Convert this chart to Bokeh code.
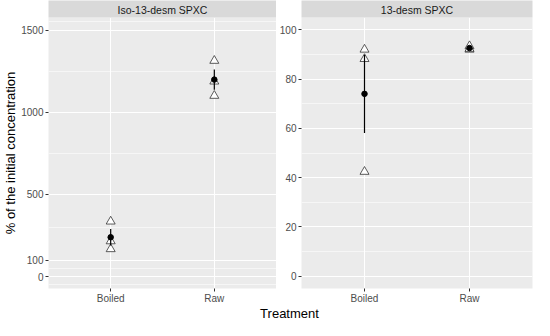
from bokeh.plotting import figure
from bokeh.models import (FactorRange, Range1d, FixedTicker, CategoricalAxis, Label,
                          ColumnDataSource)
from bokeh.layouts import column, row
from bokeh.embed import file_html
from bokeh.resources import INLINE

# ---------------- data ----------------
treatments = ["Boiled", "Raw"]
obs_treatment = ["Boiled", "Boiled", "Boiled", "Raw", "Raw", "Raw"]

# Iso-13-desm SPXC panel
iso_title = "Iso-13-desm SPXC"
iso_obs = [336, 216, 168, 1314, 1188, 1101]
iso_mean = [240, 1199]
iso_lower = [190, 1138]
iso_upper = [290, 1260]
iso_ticks = [0, 100, 500, 1000, 1500]
iso_minor = [-50, 50, 300, 750, 1250, 1550]
iso_limits = (-72, 1577)

# 13-desm SPXC panel
d13_title = "13-desm SPXC"
d13_obs = [92.0, 88.2, 42.4, 92.0, 92.3, 93.4]
d13_mean = [74.0, 92.6]
d13_lower = [58.1, 92.2]
d13_upper = [89.9, 93.0]
d13_ticks = [0, 20, 40, 60, 80, 100]
d13_minor = [10, 30, 50, 70, 90]
d13_limits = (-5, 105)

y_title = "% of the initial concentration"
x_title = "Treatment"

FONT = "Liberation Sans"
PANEL_BG = "#EBEBEB"
STRIP_BG = "#D9D9D9"
ROW_H = 306


def make_panel(title, obs, mean, lower, upper, ticks, minor, limits, width, ylabel=None):
    p = figure(width=width, height=ROW_H, output_backend="svg", toolbar_location=None,
               x_range=FactorRange(factors=treatments, range_padding=0.1),
               y_range=Range1d(*limits),
               background_fill_color=PANEL_BG, border_fill_color="white",
               outline_line_color=None,
               min_border_left=0, min_border_right=0, min_border_top=3, min_border_bottom=0)

    # grid
    p.xgrid.grid_line_color = "white"
    p.xgrid.grid_line_width = 1.1
    p.ygrid.grid_line_color = "white"
    p.ygrid.grid_line_width = 1.1
    p.ygrid.minor_grid_line_color = "white"
    p.ygrid.minor_grid_line_width = 0.55
    p.yaxis.ticker = FixedTicker(ticks=ticks, minor_ticks=minor)

    for ax in (p.xaxis[0], p.yaxis[0]):
        ax.axis_line_color = None
        ax.major_tick_line_color = "#333333"
        ax.major_tick_line_width = 1
        ax.major_tick_out = 3
        ax.major_tick_in = 0
        ax.minor_tick_line_color = None
        ax.major_label_text_color = "#4D4D4D"
        ax.major_label_text_font = FONT
        ax.major_label_text_font_size = "10px"
        ax.major_label_standoff = 1
    p.xaxis.major_label_standoff = 1

    if ylabel:
        p.yaxis.axis_label = ylabel
        p.yaxis.axis_label_text_font = FONT
        p.yaxis.axis_label_text_font_size = "13px"
        p.yaxis.axis_label_text_font_style = "normal"
        p.yaxis.axis_label_text_color = "black"
        p.yaxis.axis_label_standoff = 0

    # facet strip as an axis without ticks above the panel
    strip = CategoricalAxis(ticker=FixedTicker(ticks=[]),
                            axis_label=title, axis_line_color=None,
                            major_tick_line_color=None, minor_tick_line_color=None,
                            major_tick_out=0, major_tick_in=0, major_label_standoff=0,
                            axis_label_text_font=FONT, axis_label_text_font_size="10.5px",
                            axis_label_text_font_style="normal",
                            axis_label_text_color="#1A1A1A", axis_label_standoff=2,
                            background_fill_color=STRIP_BG)
    p.add_layout(strip, "above")

    obs_src = ColumnDataSource(dict(t=obs_treatment, v=obs))
    sum_src = ColumnDataSource(dict(t=treatments, m=mean, lo=lower, hi=upper))

    p.scatter(x="t", y="v", source=obs_src, marker="triangle", size=9,
              fill_color="white", line_color="#333333", line_width=0.8)
    p.segment(x0="t", y0="lo", x1="t", y1="hi", source=sum_src,
              line_color="black", line_width=1.2)
    p.scatter(x="t", y="m", source=sum_src, marker="circle", size=5.5,
              fill_color="black", line_color="black")
    return p


p1 = make_panel(iso_title, iso_obs, iso_mean, iso_lower, iso_upper,
                iso_ticks, iso_minor, iso_limits, 276, ylabel=y_title)
p2 = make_panel(d13_title, d13_obs, d13_mean, d13_lower, d13_upper,
                d13_ticks, d13_minor, d13_limits, 258)
p2.min_border_right = 2

p3 = figure(width=534, height=320 - ROW_H, output_backend="svg", toolbar_location=None,
            x_range=Range1d(0, 534), y_range=Range1d(0, 320 - ROW_H),
            x_axis_type=None, y_axis_type=None, outline_line_color=None,
            min_border=0, background_fill_color="white")
p3.grid.visible = False
p3.add_layout(Label(x=289, y=(320 - ROW_H) / 2, text=x_title, text_align="center",
                    text_baseline="middle", text_font=FONT,
                    text_font_size="13px", text_color="black"))

layout = column(row(p1, p2), p3, spacing=0)
layout_html = file_html(layout, INLINE)
open("out.html", "w").write(layout_html)
